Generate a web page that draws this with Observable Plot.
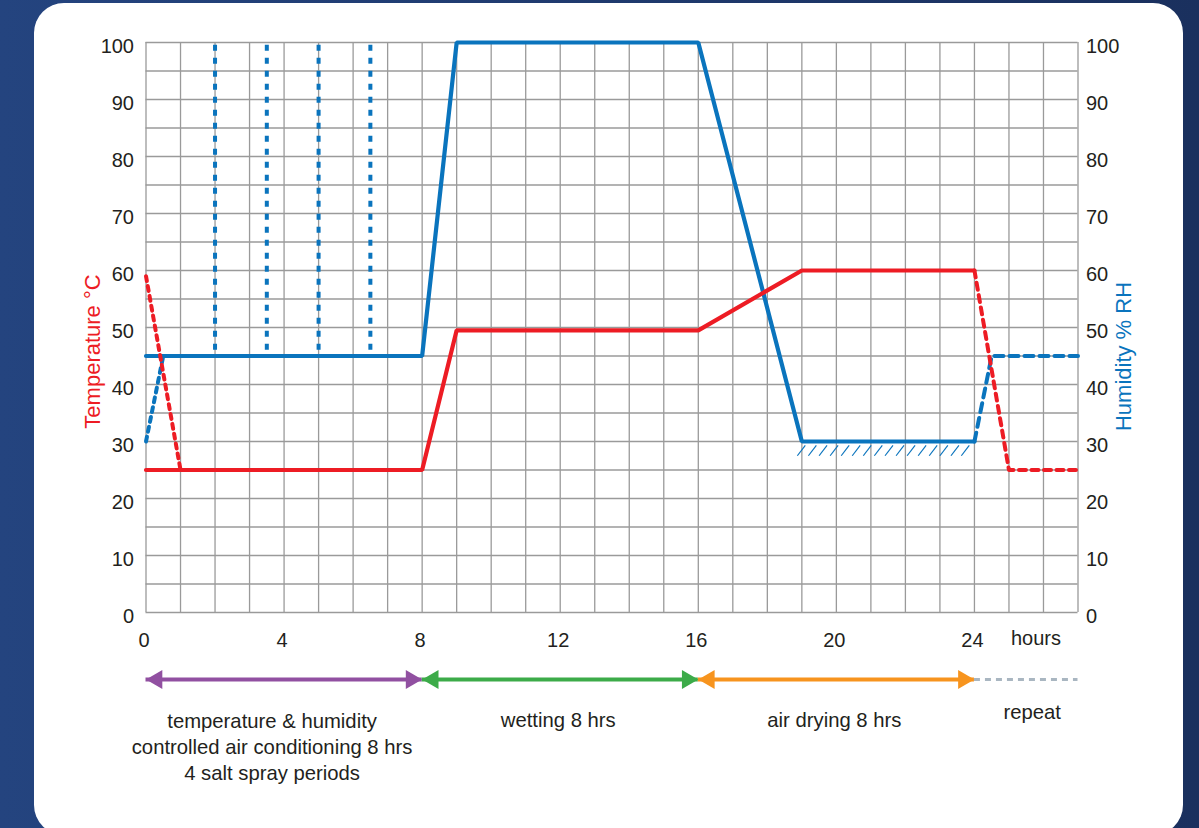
<!DOCTYPE html>
<html>
<head>
<meta charset="utf-8">
<script src="https://cdn.jsdelivr.net/npm/d3@7"></script>
<script src="https://cdn.jsdelivr.net/npm/@observablehq/plot@0.6"></script>
<style>
  html, body { margin: 0; padding: 0; width: 1199px; height: 828px; overflow: hidden; }
  body { background: linear-gradient(90deg, #24447f 0%, #1f3a6e 50%, #1a305e 100%); position: relative; font-family: "Liberation Sans", Arial, Helvetica, sans-serif; }
  #card { position: absolute; left: 34px; top: 3px; width: 1149px; height: 832px; background: #fff; border-radius: 30px; }
  #chart { position: absolute; left: 0; top: 0; }
  #chart svg { overflow: visible; background: transparent; }
</style>
</head>
<body>
<div id="card"></div>
<div id="chart"></div>
<script>
// ---- data ----
const hours       = [0, 8, 9, 16, 19, 24];
const temperature = [25, 25, 49.5, 49.5, 60, 60];
const humidity    = [45, 45, 100, 100, 30, 30];

const tempStartHours  = [0, 1];
const tempStartValues = [59, 25];
const tempEndHours    = [24, 25, 27];
const tempEndValues   = [60, 25, 25];

const humStartHours  = [0, 0.5];
const humStartValues = [30, 45];
const humEndHours    = [24, 24.5, 27];
const humEndValues   = [30, 45, 45];

const saltSprayHours = [2, 3.5, 5, 6.5];
const saltSprayFrom  = 46;
const saltSprayTo    = 100;

const hatchHours = [18.87, 19.19, 19.5, 19.82, 20.14, 20.46, 20.78, 21.1, 21.41, 21.73, 22.05, 22.37, 22.69, 23.0, 23.32, 23.62];
const hatchLow = 27.5, hatchHigh = 29.3;

const phaseStart  = [0, 8, 16];
const phaseEnd    = [8, 16, 24];
const phaseColors = ["#9150a1", "#3cab49", "#f7941e"];
const phaseLabels = ["temperature & humidity\ncontrolled air conditioning 8 hrs\n4 salt spray periods", "wetting 8 hrs", "air drying 8 hrs"];
const repeatStart = 24, repeatEnd = 27, repeatLabel = "repeat";

const xTicks = [0, 4, 8, 12, 16, 20, 24];
const yTicks = [0, 10, 20, 30, 40, 50, 60, 70, 80, 90, 100];
const gridHours = d3.range(0, 28, 1);
const gridValues = d3.range(0, 101, 5);

// ---- styles ----
const RED = "#ed1c24", BLUE = "#0a74bd", GRID = "#9a9a9a", INK = "#231f20";
const FS = 20;
const phases = phaseStart.map((s, i) => ({start: s, end: phaseEnd[i], mid: (s + phaseEnd[i]) / 2, color: phaseColors[i], label: phaseLabels[i]}));
const ARROW_DY = 67;

const chart = Plot.plot({
  width: 1199,
  height: 828,
  marginLeft: 145.5,
  marginRight: 121.5,
  marginTop: 42,
  marginBottom: 216,
  style: {fontFamily: "'Liberation Sans', Arial, Helvetica, sans-serif", fontSize: FS + "px", color: INK, background: "transparent"},
  x: {domain: [0, 27], axis: null},
  y: {domain: [0, 100], axis: null},
  color: {type: "identity"},
  marks: [
    // grid
    Plot.ruleX(gridHours, {x: d => d, y1: 0, y2: 100, stroke: GRID, strokeWidth: 1.3}),
    Plot.ruleY(gridValues, {y: d => d, x1: 0, x2: 27, stroke: GRID, strokeWidth: 1.3}),
    // axes
    Plot.axisY(yTicks, {anchor: "left", tickSize: 0, tickPadding: 12, dy: 4, fontSize: FS, fill: INK, label: null}),
    Plot.axisY(yTicks, {anchor: "right", tickSize: 0, tickPadding: 8, dy: 4, fontSize: FS, fill: INK, label: null}),
    Plot.axisX(xTicks, {anchor: "bottom", tickSize: 0, tickPadding: 20, dx: -2, fontSize: FS, fill: INK, label: null}),
    Plot.text(["hours"], {frameAnchor: "bottom-right", textAnchor: "end", lineAnchor: "middle", dx: -17, dy: 26, fontSize: FS, fill: INK}),
    Plot.text(["Temperature °C"], {frameAnchor: "left", rotate: -90, textAnchor: "middle", lineAnchor: "middle", dx: -53.5, dy: 24, fontSize: 22, fill: RED}),
    Plot.text(["Humidity % RH"], {frameAnchor: "right", rotate: -90, textAnchor: "middle", lineAnchor: "middle", dx: 46, dy: 29, fontSize: 22, fill: BLUE}),
    // hatching under the humidity floor
    Plot.link(hatchHours, {x1: d => d, x2: d => d + 0.23, y1: hatchLow, y2: hatchHigh, stroke: BLUE, strokeWidth: 1.2}),
    // salt spray periods
    Plot.ruleX(saltSprayHours, {x: d => d, y1: saltSprayFrom, y2: saltSprayTo, stroke: BLUE, strokeWidth: 4, strokeDasharray: "6,7"}),
    // humidity
    Plot.line(humStartHours, {x: humStartHours, y: humStartValues, stroke: BLUE, strokeWidth: 4, strokeDasharray: "5,5"}),
    Plot.line(humEndHours, {x: humEndHours, y: humEndValues, stroke: BLUE, strokeWidth: 4, strokeDasharray: "9,6"}),
    Plot.line(hours, {x: hours, y: humidity, stroke: BLUE, strokeWidth: 4.2, strokeLinejoin: "miter"}),
    // temperature
    Plot.line(tempStartHours, {x: tempStartHours, y: tempStartValues, stroke: RED, strokeWidth: 4, strokeDasharray: "5,5"}),
    Plot.line(tempEndHours, {x: tempEndHours, y: tempEndValues, stroke: RED, strokeWidth: 4, strokeDasharray: "7,5.5"}),
    Plot.line(hours, {x: hours, y: temperature, stroke: RED, strokeWidth: 4.2, strokeLinejoin: "miter"}),
    // phase arrows
    Plot.ruleY(phases, {y: 0, x1: "start", x2: "end", stroke: "color", strokeWidth: 4, dy: ARROW_DY}),
    Plot.dot(phases, {x: "start", y: 0, symbol: "triangle", r: 7, rotate: -90, fill: "color", dx: 10.9, dy: ARROW_DY}),
    Plot.dot(phases, {x: "end", y: 0, symbol: "triangle", r: 7, rotate: 90, fill: "color", dx: -10.9, dy: ARROW_DY}),
    Plot.ruleY([0], {x1: repeatStart, x2: repeatEnd, stroke: "#a9b6c1", strokeWidth: 3.2, strokeDasharray: "6,5", dy: ARROW_DY}),
    // phase labels
    Plot.text(phases.slice(0, 1), {x: "mid", y: 0, text: "label", textAnchor: "middle", lineAnchor: "middle", lineHeight: 1.27, dx: -12, dy: 133, fontSize: 20.3, fill: INK}),
    Plot.text(phases.slice(1), {x: "mid", y: 0, text: "label", textAnchor: "middle", lineAnchor: "middle", dx: -2, dy: 107.5, fontSize: 20.3, fill: INK}),
    Plot.text([repeatLabel], {x: (repeatStart + repeatEnd) / 2, y: 0, textAnchor: "middle", lineAnchor: "middle", dx: 6, dy: 99.5, fontSize: 20.3, fill: INK})
  ]
});
document.getElementById("chart").appendChild(chart);
</script>
</body>
</html>
